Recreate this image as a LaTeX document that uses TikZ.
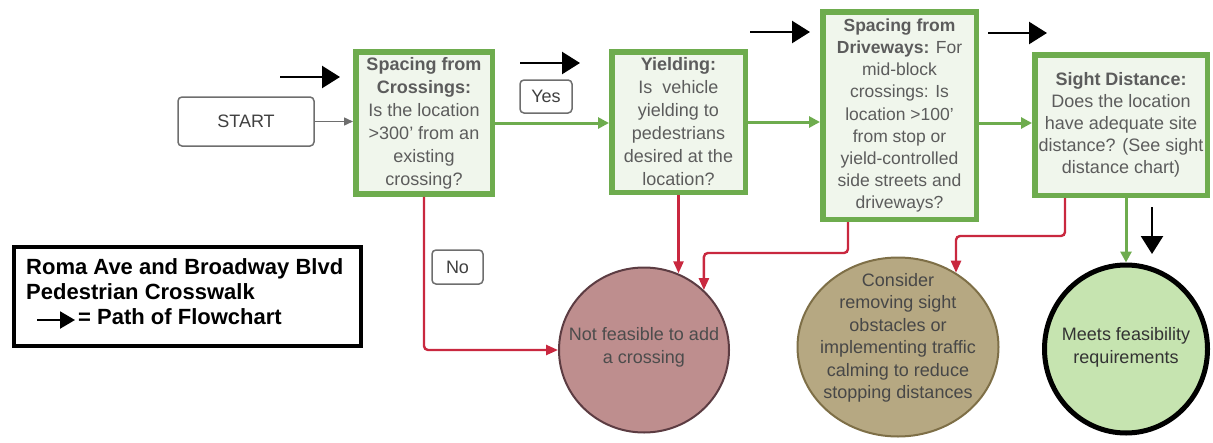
\documentclass[tikz,border=0pt]{standalone}
\usepackage{fontspec}
\setmainfont{Liberation Sans}
\usetikzlibrary{arrows.meta,shapes.geometric}

\definecolor{boxgreen}{RGB}{110,172,78}
\definecolor{boxfill}{RGB}{240,246,236}
\definecolor{txtgray}{RGB}{92,92,92}
\definecolor{flowred}{RGB}{201,40,63}
\definecolor{nofill}{RGB}{190,142,142}
\definecolor{noline}{RGB}{92,60,66}
\definecolor{consfill}{RGB}{182,168,130}
\definecolor{consline}{RGB}{126,111,71}
\definecolor{okfill}{RGB}{198,228,176}
\definecolor{startgray}{RGB}{110,110,110}

\tikzset{
  txt/.style={font=\fontsize{18}{23}\selectfont},
  question/.style={draw=boxgreen, line width=5.5pt, fill=boxfill, text=txtgray,
    align=center, inner sep=0pt, txt},
  tag/.style={draw=startgray, line width=1.5pt, rounded corners=4pt, fill=white,
    text=black!75, inner sep=0pt, font=\fontsize{18}{20}\selectfont},
  outcome/.style={ellipse, inner sep=0pt, align=center, txt},
  yesarrow/.style={draw=boxgreen, line width=3pt, -{Triangle[length=11pt,width=11pt]}},
  noarrow/.style={draw=flowred, line width=2.4pt, rounded corners=4pt,
    -{Triangle[length=12pt,width=10pt]}},
  pathmark/.style={line width=2.5pt, -{Triangle[length=18pt,width=22pt]}},
}

\begin{document}
\begin{tikzpicture}[x=1pt,y=-1pt]
\useasboundingbox (0,0) rectangle (1213,442);

% start terminal
\node[tag, minimum width=136pt, minimum height=49pt] (start) at (246,121.5)
  {START};

% decision boxes
\node[question, minimum width=136.5pt, minimum height=142pt] (q1) at (424,123)
  {\textbf{Spacing from}\\ \textbf{Crossings:}\\ Is the location\\ >300' from an\\ existing\\ crossing?};
\node[question, minimum width=133.5pt, minimum height=140.5pt] (q2) at (678.5,122)
  {\textbf{Yielding:}\\ Is\ \ vehicle\\ yielding to\\ pedestrians\\ desired at the\\ location?};
\node[question, minimum width=153.5pt, minimum height=207.5pt,
      font=\fontsize{17.5}{22.2}\selectfont] (q3) at (899.5,115.5)
  {\textbf{Spacing from}\\ \textbf{Driveways:} For\\ mid-block\\ crossings: Is\\ location >100'\\ from stop or\\ yield-controlled\\ side streets and\\ driveways?};
\node[question, minimum width=172.5pt, minimum height=140.5pt,
      font=\fontsize{18}{22}\selectfont] (q4) at (1121,125)
  {\textbf{Sight Distance:}\\ Does the location\\ have adequate site\\ distance? (See sight\\ distance chart)};

% edge labels
\node[tag, minimum width=52pt, minimum height=33pt] (yes) at (546,96.5) {Yes};
\node[tag, minimum width=51pt, minimum height=34pt] (no) at (457.5,267) {No};

% outcomes
\node[outcome, draw=noline, line width=2pt, fill=nofill,
      minimum width=170pt, minimum height=165pt] (nf) at (644,350) {};
\node[txt, align=center, text=black!70] (nftext) at (644,347)
  {Not feasible to add\\ a crossing};

\node[outcome, draw=consline, line width=2pt, fill=consfill,
      minimum width=201pt, minimum height=179pt] (cons) at (898,347) {};
\node[txt, align=center, text=black!72, font=\fontsize{18}{22.5}\selectfont] (constext) at (898,338)
  {Consider\\ removing sight\\ obstacles or\\ implementing traffic\\ calming to reduce\\ stopping distances};

\node[outcome, draw=black, line width=5pt, fill=okfill,
      minimum width=163pt, minimum height=168pt] (ok) at (1126,349) {};
\node[txt, align=center, text=black!80] (oktext) at (1126,347)
  {Meets feasibility\\ requirements};

% legend
\node[draw=black, line width=4pt, fill=white, minimum width=347pt, minimum height=99pt,
      inner sep=0pt] (legend) at (187.5,296.5) {};
\node[anchor=north west, align=left, inner sep=0pt,
      font=\bfseries\fontsize{22}{25}\selectfont] (legendtext) at (26,258)
  {Roma Ave and Broadway Blvd\\ Pedestrian Crosswalk\\ \hspace{52pt}= Path of Flowchart};
\coordinate (lgA) at (37,320);
\coordinate (lgB) at (75,320);
\draw[line width=2.2pt, -{Triangle[length=15pt,width=17pt]}] (lgA) -- (lgB);

% main flow (yes branch)
\draw[draw=startgray, line width=1.5pt, -{Triangle[length=9pt,width=8pt]}]
  (start.east) -- (start.east -| q1.west);
\draw[yesarrow] (q1.east) -- (q1.east -| q2.west);
\draw[yesarrow] (q2.east) -- (q2.east -| q3.west);
\draw[yesarrow] (q3.east |- 0,123) -- (q4.west |- 0,123);
\draw[yesarrow] (ok.north |- q4.south) -- (ok.north);

% failure branches
\draw[noarrow] (q1.south) |- (nf.west);
\draw[noarrow] (q2.south) -- (q2.south |- nf.66);
\coordinate (q3out) at ([xshift=-51.5pt]q3.south);
\draw[noarrow] (q3out) -- (q3out |- 0,253) -| (nf.45);
\coordinate (q4out) at ([xshift=-56pt]q4.south);
\draw[noarrow] (q4out) -- (q4out |- 0,236) -| (cons.52);

% path-of-flowchart markers
\coordinate (m1a) at (280,77);   \coordinate (m1b) at (340,77);
\coordinate (m2a) at (520,63);   \coordinate (m2b) at (580,63);
\coordinate (m3a) at (750,32);   \coordinate (m3b) at (810,32);
\coordinate (m4a) at (988,33);   \coordinate (m4b) at (1047,33);
\coordinate (m5a) at (1152,207); \coordinate (m5b) at (1152,254);
\draw[pathmark] (m1a) -- (m1b);
\draw[pathmark] (m2a) -- (m2b);
\draw[pathmark] (m3a) -- (m3b);
\draw[pathmark] (m4a) -- (m4b);
\draw[pathmark] (m5a) -- (m5b);
\end{tikzpicture}
\end{document}
